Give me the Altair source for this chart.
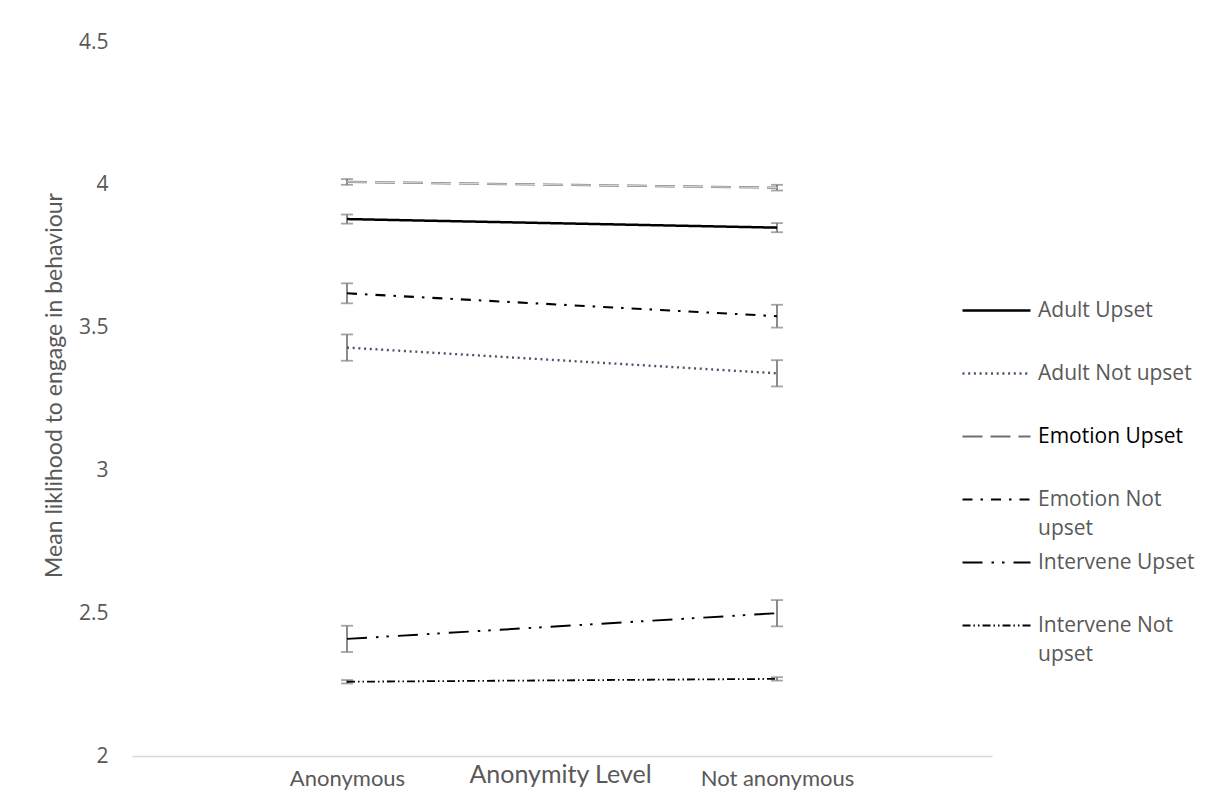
import altair as alt
import pandas as pd

conditions = ["Anonymous", "Not anonymous"]
series_names = [
    "Adult Upset",
    "Adult Not upset",
    "Emotion Upset",
    "Emotion Not upset",
    "Intervene Upset",
    "Intervene Not upset",
]
mean_anonymous = [3.88, 3.43, 4.01, 3.62, 2.41, 2.26]
mean_not_anonymous = [3.85, 3.34, 3.99, 3.54, 2.50, 2.27]
err_anonymous = [0.016, 0.046, 0.010, 0.035, 0.046, 0.006]
err_not_anonymous = [0.016, 0.046, 0.010, 0.040, 0.046, 0.006]
y_ticks = [2, 2.5, 3, 3.5, 4, 4.5]

# styles
line_colors = ["#000000", "#44546A", "#6E6E6E", "#000000", "#000000", "#000000"]
line_dashes = [[1, 0], [2, 3.7], [20, 8], [10, 8, 2.5, 8], [20, 9, 2.5, 8, 2.5, 9], [8, 3, 1.5, 3, 1.5, 3]]
line_widths = [2.5, 1.8, 3.5, 2.5, 2.8, 1.3]

rows = []
for i, s in enumerate(series_names):
    for c, m, e in ((conditions[0], mean_anonymous[i], err_anonymous[i]),
                    (conditions[1], mean_not_anonymous[i], err_not_anonymous[i])):
        rows.append({"series": s, "condition": c, "mean": m, "lo": m - e, "hi": m + e})
df = pd.DataFrame(rows)

label_expr = ("datum.label == 'Emotion Not upset' ? ['Emotion Not', 'upset'] : "
              "datum.label == 'Intervene Not upset' ? ['Intervene Not', 'upset'] : datum.label")

legend = alt.Legend(
    title=None,
    orient="none",
    legendX=854,
    legendY=258,
    padding=0,
    symbolType="M-34,0H34",
    symbolSize=4,
    labelFont="Open Sans",
    labelFontSize=21,
    labelOffset=31,
    labelLimit=300,
    labelBaseline="middle",
    labelColor={"expr": "datum.label == 'Emotion Upset' ? '#000000' : '#595959'"},
    rowPadding=12,
    gridAlign="all",
    labelExpr=label_expr,
)

x_enc = alt.X(
    "condition:N",
    sort=conditions,
    scale=alt.Scale(type="point", domain=conditions, padding=0.5),
    axis=alt.Axis(
        title="Anonymity Level",
        titleFont="Lato",
        titleFontSize=25,
        titleFontWeight="normal",
        titleColor="#595959",
        titleX=428,
        titleY=26,
        titleAlign="center",
        titleBaseline="alphabetic",
        labelFont="Lato",
        labelFontSize=22,
        labelColor="#595959",
        labelPadding=29,
        labelBaseline="alphabetic",
        labelAngle=0,
        ticks=False,
        grid=False,
        domainColor="#D9D9D9",
        domainWidth=1.5,
    ),
)
y_enc = alt.Y(
    "mean:Q",
    scale=alt.Scale(domain=[2, 4.5], nice=False, zero=False),
    axis=alt.Axis(
        title="Mean liklihood to engage in behaviour",
        titleFont="Lato",
        titleFontSize=23,
        titleFontWeight="normal",
        titleColor="#595959",
        titlePadding=12,
        titleY=343,
        values=y_ticks,
        format=".1~f",
        labelFont="Open Sans",
        labelFontSize=21,
        labelColor="#595959",
        labelPadding=24,
        ticks=False,
        grid=False,
        domain=False,
    ),
)

base = alt.Chart(df)

err_rule = base.mark_rule(color="#7F7F7F", strokeWidth=1.8).encode(
    x=x_enc, y="lo:Q", y2="hi:Q"
)
err_lo = base.mark_tick(color="#7F7F7F", size=12, thickness=1.8).encode(x=x_enc, y="lo:Q")
err_hi = base.mark_tick(color="#7F7F7F", size=12, thickness=1.8).encode(x=x_enc, y="hi:Q")

lines = base.mark_line(strokeCap="butt").encode(
    x=x_enc,
    y=y_enc,
    color=alt.Color("series:N", scale=alt.Scale(domain=series_names, range=line_colors), legend=legend),
    strokeDash=alt.StrokeDash("series:N", scale=alt.Scale(domain=series_names, range=line_dashes), legend=legend),
    strokeWidth=alt.StrokeWidth("series:N", scale=alt.Scale(domain=series_names, range=line_widths), legend=legend),
)

inner = base.transform_filter(alt.datum.series == "Emotion Upset").mark_line(
    color="#D4D4D4", strokeWidth=1.2, strokeDash=[20, 8], strokeCap="butt"
).encode(x=x_enc, y=y_enc)

chart = alt.layer(err_rule, err_lo, err_hi, lines, inner).properties(
    width=860,
    height=714,
    autosize=alt.AutoSizeParams(type="none"),
    padding={"left": 124, "top": 34, "right": 208, "bottom": 35},
).configure(
    background="white",
    view=alt.ViewConfig(strokeWidth=0, stroke="transparent"),
    style={"guide-label": {"lineHeight": 29}},
)

chart.save("out.html", embed_options={"renderer": "svg", "actions": False})
